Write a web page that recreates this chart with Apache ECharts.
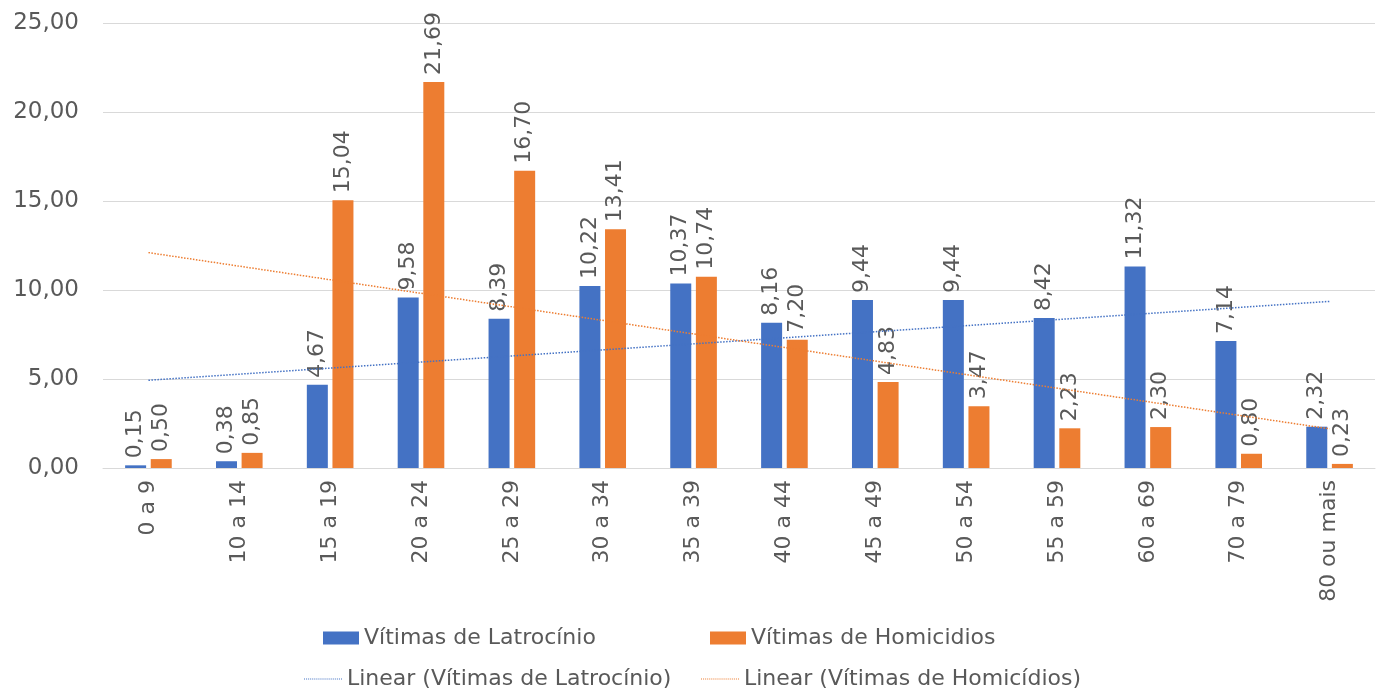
<!DOCTYPE html>
<html>
<head>
<meta charset="utf-8">
<script src="https://cdn.jsdelivr.net/npm/echarts@6/dist/echarts.min.js"></script>
<style>html,body{margin:0;padding:0;background:#fff;}#c{width:1393px;height:688px;}</style>
</head>
<body>
<div id="c"></div>
<script>
const categories = ['0 a 9','10 a 14','15 a 19','20 a 24','25 a 29','30 a 34','35 a 39','40 a 44','45 a 49','50 a 54','55 a 59','60 a 69','70 a 79','80 ou mais'];
const latrocinio = [0.15,0.38,4.67,9.58,8.39,10.22,10.37,8.16,9.44,9.44,8.42,11.32,7.14,2.32];
const homicidios = [0.50,0.85,15.04,21.69,16.70,13.41,10.74,7.20,4.83,3.47,2.23,2.30,0.80,0.23];
// trend line endpoints (first and last category)
const trendLatrocinio = [4.93, 9.36];
const trendHomicidios = [12.10, 2.20];
const yTicks = {min: 0, max: 25, interval: 5};

const FONT = 'DejaVu Sans';
const GRAY = '#595959';
const BLUE = '#4472C4';
const ORANGE = '#ED7D31';
const fmt = v => v.toFixed(2).replace('.', ',');

const names = ['Vítimas de Latrocínio','Vítimas de Homicidios','Linear (Vítimas de Latrocínio)','Linear (Vítimas de Homicídios)'];

// dotted legend icon (row of small squares)
let dotPath = 'path://';
for (let i = 0; i < 19; i++) dotPath += 'M' + (i * 2) + ',0h1v1h-1z';

const barLabel = {
  show: true, position: 'top', rotate: 90, align: 'left', verticalAlign: 'middle', distance: 7,
  color: GRAY, fontFamily: FONT, fontSize: 22,
  formatter: p => fmt(p.value)
};

const chart = echarts.init(document.getElementById('c'));
const legendBase = {orient: 'horizontal', itemWidth: 36, itemHeight: 13, textStyle: {color: GRAY, fontFamily: FONT, fontSize: 22}, itemGap: 4, selectedMode: false};
chart.setOption({
  animation: false,
  grid: {left: 103, right: 18, top: 23, bottom: 220, containLabel: false},
  legend: [
    Object.assign({}, legendBase, {left: 318, top: 622, data: [{name: names[0], icon: 'rect'}]}),
    Object.assign({}, legendBase, {left: 705, top: 622, data: [{name: names[1], icon: 'rect'}]}),
    Object.assign({}, legendBase, {left: 299, top: 663, itemWidth: 38, itemHeight: 2, data: [{name: names[2], icon: dotPath}]}),
    Object.assign({}, legendBase, {left: 696, top: 663, itemWidth: 38, itemHeight: 2, data: [{name: names[3], icon: dotPath}]})
  ],
  xAxis: {
    type: 'category', data: categories,
    axisLine: {lineStyle: {color: '#d9d9d9', width: 1}},
    axisTick: {show: false},
    axisLabel: {rotate: 90, color: GRAY, fontFamily: FONT, fontSize: 22, margin: 12, interval: 0}
  },
  yAxis: {
    type: 'value', min: yTicks.min, max: yTicks.max, interval: yTicks.interval,
    axisLine: {show: false}, axisTick: {show: false},
    splitLine: {lineStyle: {color: '#d9d9d9', width: 1}},
    axisLabel: {color: GRAY, fontFamily: FONT, fontSize: 23, margin: 24, formatter: v => fmt(v)}
  },
  series: [
    {name: names[0], type: 'bar', data: latrocinio, barWidth: 21, barGap: '22%', itemStyle: {color: BLUE}, label: barLabel},
    {name: names[1], type: 'bar', data: homicidios, barWidth: 21, barGap: '22%', itemStyle: {color: ORANGE}, label: barLabel},
    {name: names[2], type: 'line', data: [[categories[0], trendLatrocinio[0]], [categories[categories.length-1], trendLatrocinio[1]]],
      symbol: 'none', lineStyle: {color: BLUE, type: 'dotted', width: 1.5}, itemStyle: {color: BLUE}, z: 5},
    {name: names[3], type: 'line', data: [[categories[0], trendHomicidios[0]], [categories[categories.length-1], trendHomicidios[1]]],
      symbol: 'none', lineStyle: {color: ORANGE, type: 'dotted', width: 1.5}, itemStyle: {color: ORANGE}, z: 5}
  ]
});
</script>
</body>
</html>
